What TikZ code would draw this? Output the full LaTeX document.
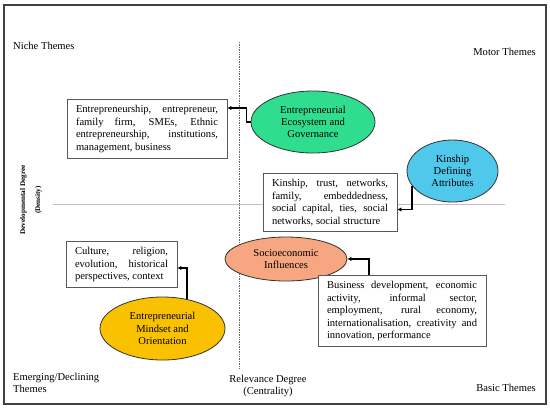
\documentclass[tikz,border=0pt]{standalone}
\usepackage{fontspec}
\setmainfont{Liberation Serif}
\usetikzlibrary{shapes.geometric,arrows.meta}
\definecolor{ecogreen}{RGB}{46,222,142}
\definecolor{kinblue}{RGB}{80,200,235}
\definecolor{socioorange}{RGB}{246,166,128}
\definecolor{mindgold}{RGB}{249,193,0}

\begin{document}
\begin{tikzpicture}[x=1bp,y=-1bp,
  theme/.style={ellipse,draw=black!80,line width=0.8bp,inner sep=0pt,align=center,font=\fontsize{10.6}{12.2}\selectfont},
  words/.style={draw=black!65,fill=white,line width=0.8bp,inner xsep=9bp,inner ysep=6bp,align=justify,font=\fontsize{10.6}{12.5}\selectfont},
  corner/.style={inner sep=0pt,font=\fontsize{10.6}{12.2}\selectfont},
  link/.style={line width=1.3bp,-{Latex[length=4bp,width=4.5bp]}}]
\useasboundingbox (0,0) rectangle (550,409);
\draw[line width=1.5bp,black!75] (4,5) rectangle (546,404);
\draw[black!60,densely dotted,line width=0.7bp] (239,42) -- (239,369);
\draw[black!25,line width=0.8bp] (53,204) -- (505,204);
\node[corner,anchor=west] (niche) at (13,46) {Niche Themes};
\node[corner,anchor=east] (motor) at (536,52) {Motor Themes};
\node[corner,anchor=west,align=left] (emerging) at (13,383) {Emerging/Declining\\Themes};
\node[corner,align=center] (relevance) at (268,386) {Relevance Degree\\(Centrality)};
\node[corner,anchor=east] (basic) at (536,388) {Basic Themes};
\node[inner sep=0pt,rotate=90,align=center,font=\fontsize{7.2}{15}\selectfont\bfseries] (density) at (31,200) {Developmental Degree\\(Density)};
\node[theme,fill=ecogreen,minimum width=124bp,minimum height=62bp] (eco) at (313,122) {Entrepreneurial\\Ecosystem and\\Governance};
\node[theme,fill=kinblue,minimum width=91bp,minimum height=62bp] (kin) at (452.5,171) {Kinship\\Defining\\Attributes};
\node[theme,fill=socioorange,minimum width=122bp,minimum height=44bp] (socio) at (286,259) {Socioeconomic\\Influences};
\node[theme,fill=mindgold,minimum width=125bp,minimum height=63bp] (mind) at (162.5,328.5) {Entrepreneurial\\Mindset and\\Orientation};
\node[words,text width=142bp] (box1) at (147,129) {Entrepreneurship, entrepreneur,\linebreak family firm, SMEs, Ethnic\linebreak entrepreneurship, institutions,\linebreak management, business};
\node[words,text width=116bp] (box2) at (330,202.5) {Kinship, trust, networks,\linebreak family, embeddedness,\linebreak social capital, ties, social\linebreak networks, social structure};
\node[words,text width=150bp] (box3) at (402,311) {Business development, economic\linebreak activity, informal sector,\linebreak employment, rural economy,\linebreak internationalisation, creativity and\linebreak innovation, performance};
\node[words,text width=93bp] (box4) at (121.5,264.5) {Culture, religion,\linebreak evolution, historical\linebreak perspectives, context};
\draw[link] (eco.west) -- ++(-4,0) |- ([yshift=21bp]box1.east);
\draw[link] (kin.200) |- ([yshift=-7bp]box2.east);
\draw[link] ([xshift=-33bp]box3.north) |- (socio.east);
\draw[link] (mind.50) |- ([yshift=-3.5bp]box4.east);
\end{tikzpicture}
\end{document}
